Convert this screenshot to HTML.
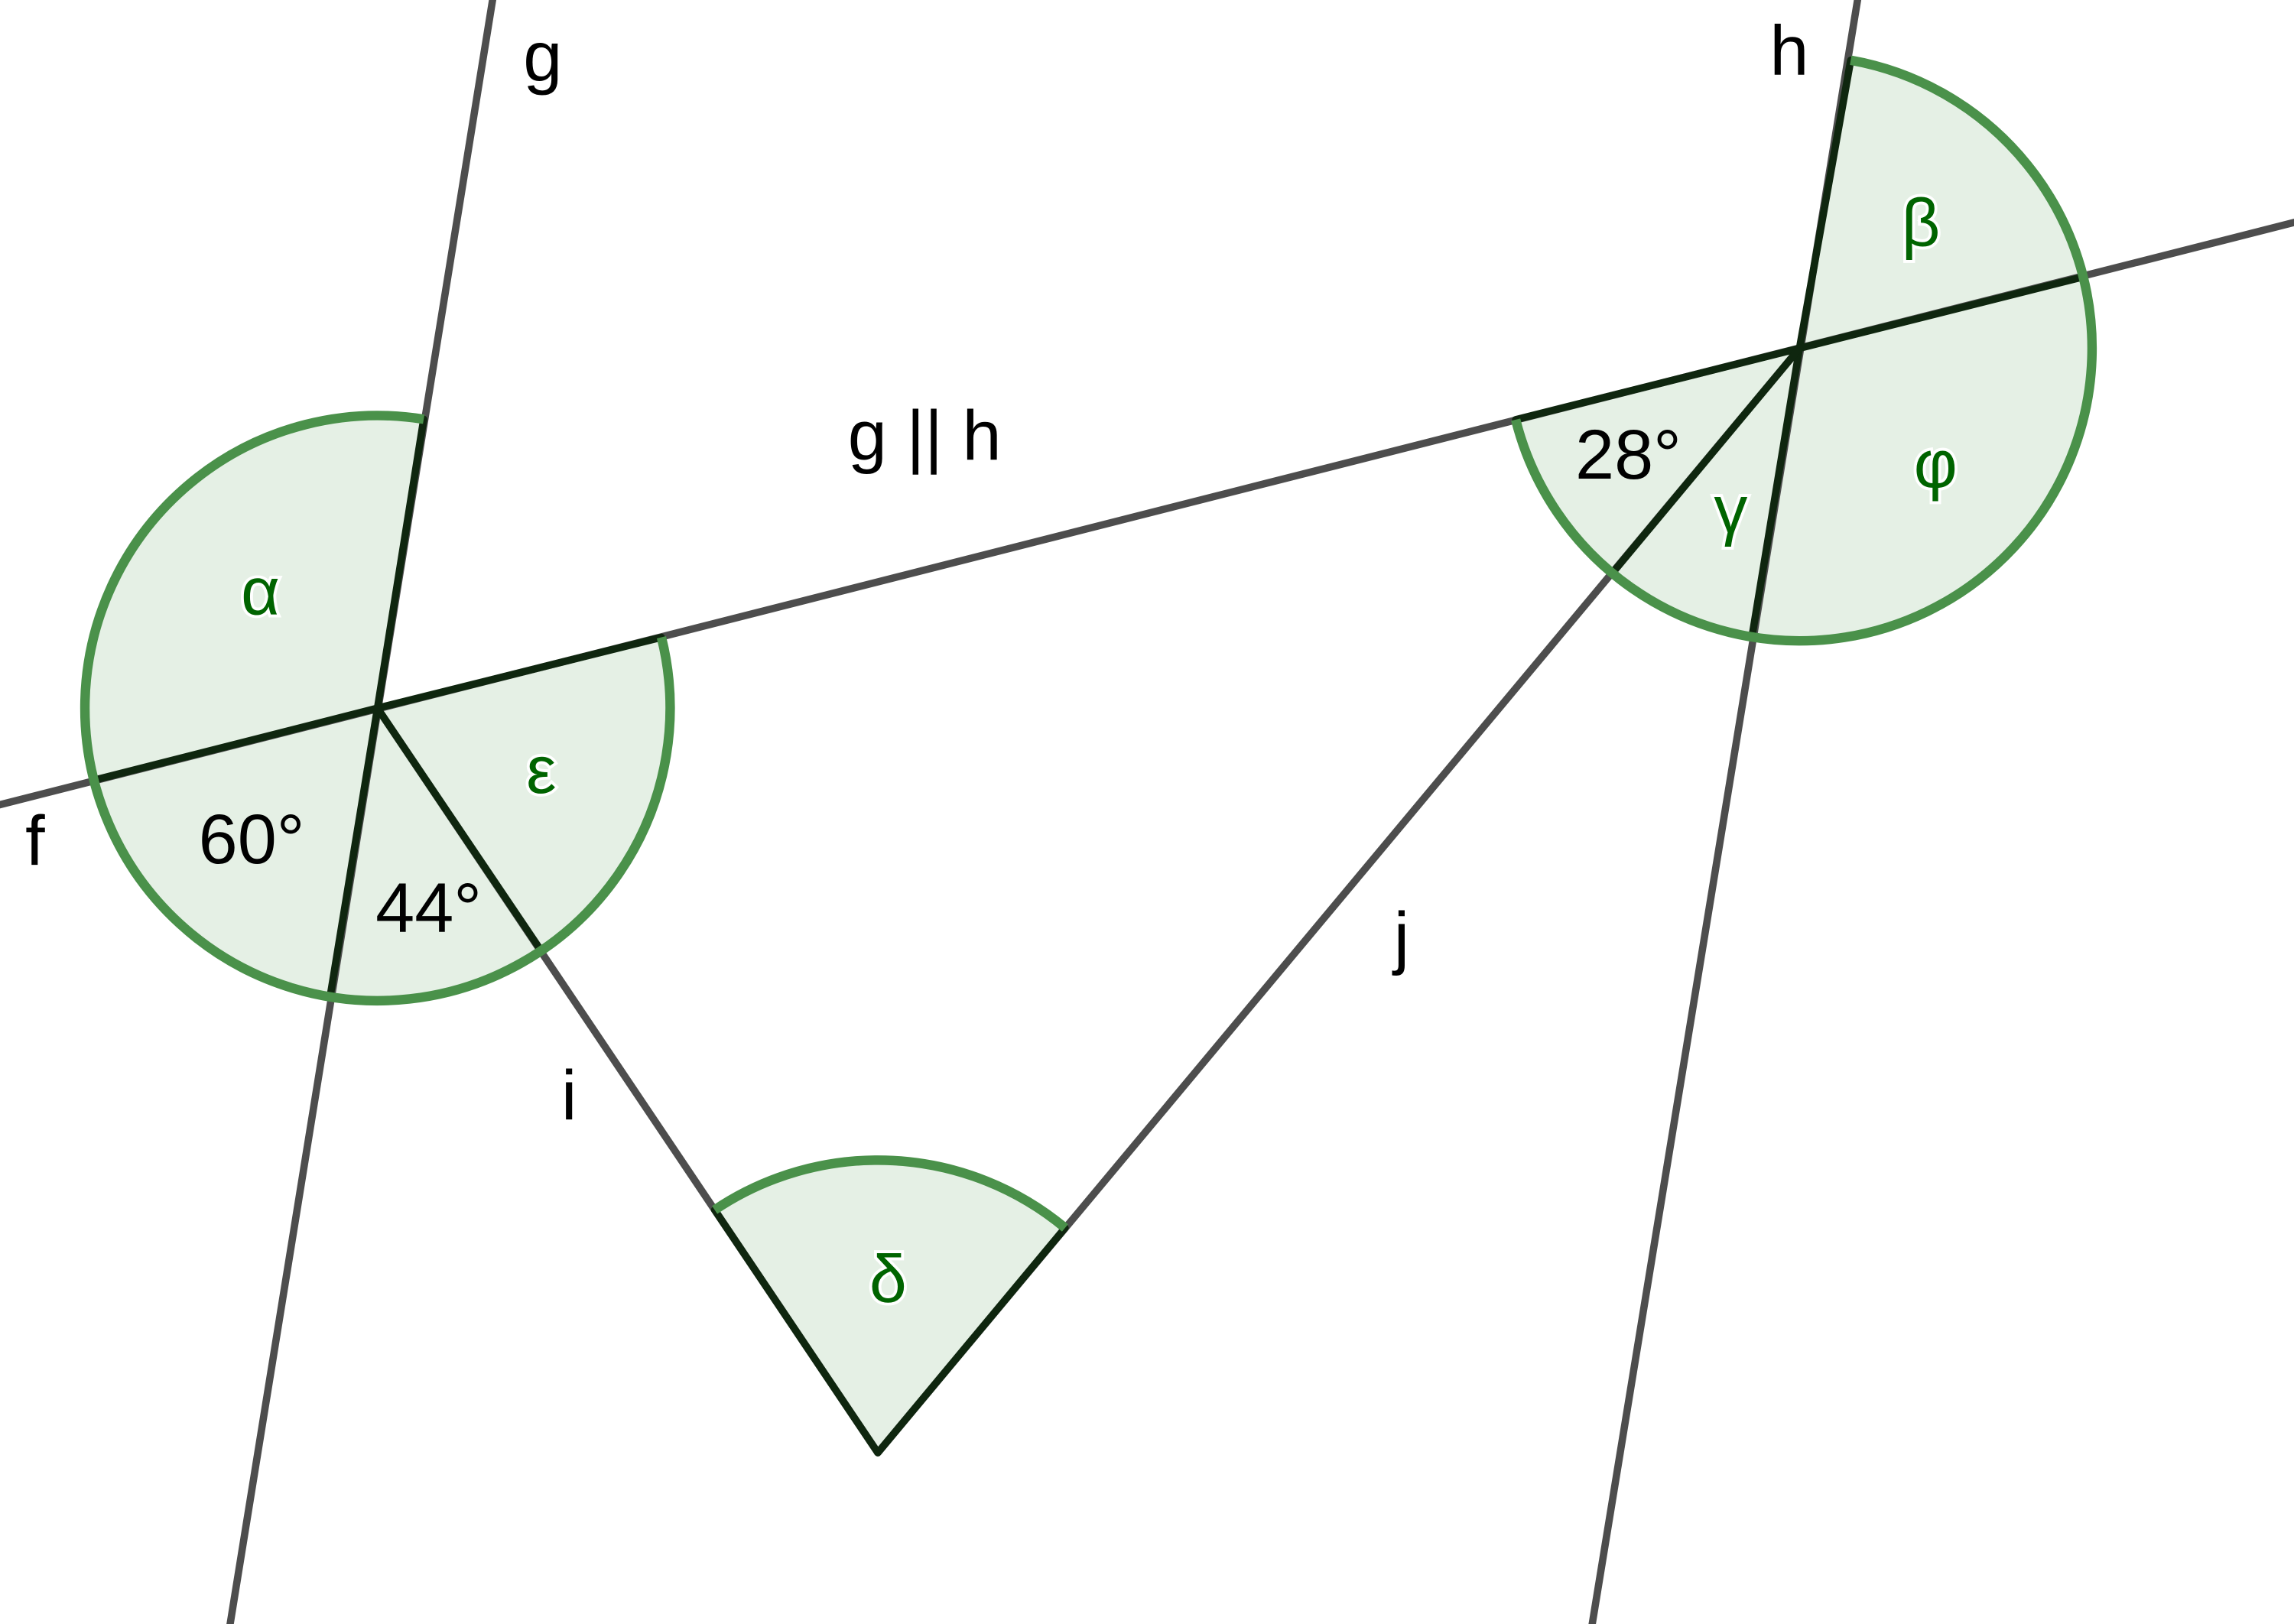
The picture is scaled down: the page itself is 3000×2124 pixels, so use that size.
<!DOCTYPE html>
<html><head><meta charset="utf-8"><style>
html,body{margin:0;padding:0;background:#fff;}
svg{display:block;}
text{font-family:"Liberation Sans",sans-serif;}
.g{fill:#006400;stroke:#fff;stroke-width:4;paint-order:stroke;font-size:46px;text-anchor:middle;}
.b{fill:#000;font-size:48px;text-anchor:middle;}
</style></head><body>
<svg width="3000" height="2124" viewBox="0 0 1568 1110" xmlns="http://www.w3.org/2000/svg">
<rect width="1568" height="1110" fill="#fff"/>
<path d="M258,484 L452.1,435.6 A200,200 0 1 1 289.6,286.5 Z" fill="#e5f0e5"/>
<path d="M1230,238 L1265,41.1 A200,200 0 1 1 1036,286.8 Z" fill="#e5f0e5"/>
<path d="M600,993 L488.5,827 A200,200 0 0 1 728,839.3 Z" fill="#e5f0e5"/>
<g stroke="#4d4d4d" stroke-width="5" fill="none">
<line x1="337" y1="-2" x2="157" y2="1112"/>
<line x1="1270" y1="-2" x2="1088" y2="1112"/>
<line x1="-2" y1="550.5" x2="1570" y2="151.5"/>
<line x1="258" y1="484" x2="600" y2="993"/>
<line x1="600" y1="993" x2="1230" y2="238"/>
</g>
<g stroke="#0f260f" stroke-width="5" fill="none" stroke-linecap="round">
<line x1="258" y1="484" x2="452.1" y2="435.6"/>
<line x1="258" y1="484" x2="64" y2="533.3"/>
<line x1="258" y1="484" x2="289.6" y2="286.5"/>
<line x1="258" y1="484" x2="225.6" y2="681.5"/>
<line x1="258" y1="484" x2="370" y2="650"/>
<line x1="1230" y1="238" x2="1265" y2="41.1"/>
<line x1="1230" y1="238" x2="1036" y2="286.8"/>
<line x1="1230" y1="238" x2="1424" y2="189.2"/>
<line x1="1230" y1="238" x2="1197.5" y2="435.3"/>
<line x1="1230" y1="238" x2="1103" y2="390.6"/>
<line x1="600" y1="993" x2="488.5" y2="827"/>
<line x1="600" y1="993" x2="728" y2="839.3"/>
</g>
<g stroke="#4a914a" stroke-width="6.5" fill="none">
<path d="M452.1,435.6 A200,200 0 1 1 289.6,286.5"/>
<path d="M1265,41.1 A200,200 0 1 1 1036,286.8"/>
<path d="M488.5,827 A200,200 0 0 1 728,839.3"/>
</g>
<text class="g" x="178" y="420">α</text>
<text class="g" x="370" y="542">ε</text>
<text class="g" x="1313" y="168">β</text>
<text class="g" x="1323" y="333">φ</text>
<text class="g" x="1183" y="364">γ</text>
<text class="g" x="607" y="890">δ</text>
<text class="b" x="172" y="590">60°</text>
<text class="b" x="293" y="637">44°</text>
<text class="b" x="1113" y="327">28°</text>
<text class="b" x="371" y="55">g</text>
<text class="b" x="1223" y="51">h</text>
<text class="b" x="24" y="591">f</text>
<text class="b" x="389" y="765">i</text>
<text class="b" x="958" y="657">j</text>
<text class="b" x="632" y="314">g || h</text>
</svg>
</body></html>
